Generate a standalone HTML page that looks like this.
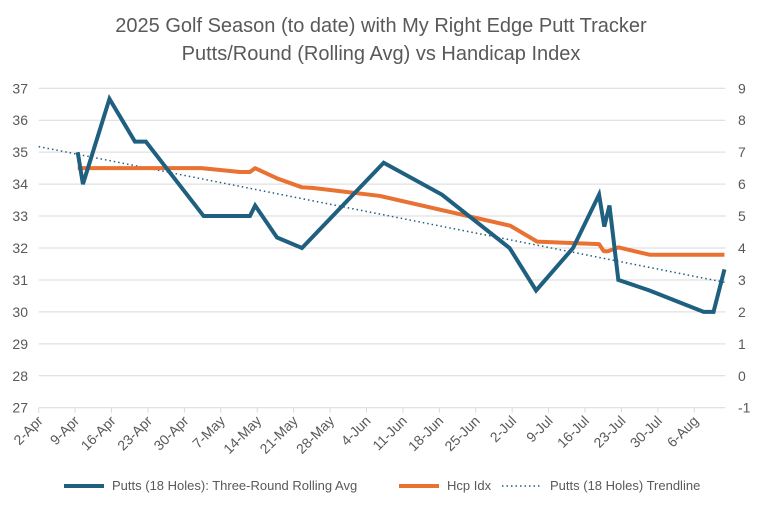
<!DOCTYPE html>
<html><head><meta charset="utf-8"><style>
body{margin:0;background:#fff;}
svg text{font-family:"Liberation Sans",Arial,sans-serif;fill:#595959;}
</style></head><body>
<svg id="chart" width="762" height="510" xmlns="http://www.w3.org/2000/svg">
<text x="381" y="32" font-size="20" text-anchor="middle">2025 Golf Season (to date) with My Right Edge Putt Tracker</text>
<text x="381" y="60" font-size="20" text-anchor="middle">Putts/Round (Rolling Avg) vs Handicap Index</text>
<g id="grid"></g><g id="xaxis"></g><g id="series"></g>
<g font-size="13">
<line x1="64" y1="486" x2="104" y2="486" stroke="#1f5f7f" stroke-width="4"/>
<text x="112" y="490" font-size="13">Putts (18 Holes): Three-Round Rolling Avg</text>
<line x1="399" y1="486" x2="439" y2="486" stroke="#e97132" stroke-width="4"/>
<text x="447" y="490" font-size="13">Hcp Idx</text>
<line x1="502" y1="486" x2="542" y2="486" stroke="#1f5f7f" stroke-width="1.5" stroke-dasharray="1.5 3"/>
<text x="550" y="490" font-size="13">Putts (18 Holes) Trendline</text>
</g>
</svg>
<script>
const xTickLabels=["2-Apr","9-Apr","16-Apr","23-Apr","30-Apr","7-May","14-May","21-May","28-May","4-Jun","11-Jun","18-Jun","25-Jun","2-Jul","9-Jul","16-Jul","23-Jul","30-Jul","6-Aug"];
const leftTicks=[27,28,29,30,31,32,33,34,35,36,37];
const rightTicks=[-1,0,1,2,3,4,5,6,7,8,9];
const puttDays=[7.5,8.5,13.6,18.5,20.6,31.7,40.6,41.6,45.8,50.6,66.3,77.5,90.5,95.6,102.7,107.7,108.7,109.7,111.4,117.4,127.8,129.7,131.8];
const puttVals=[35.0,34.0,36.67,35.33,35.33,33.0,33.0,33.33,32.33,32.0,34.67,33.67,32.0,30.67,32.0,33.67,32.67,33.33,31.0,30.67,30.0,30.0,31.33];
const hcpDays=[7.5,31.3,38.7,40.6,41.6,45.8,50.6,52.8,65.6,90.6,95.8,107.7,108.6,109.4,111.4,117.4,131.8];
const hcpVals=[6.5,6.5,6.38,6.38,6.5,6.18,5.9,5.88,5.63,4.7,4.2,4.12,3.9,3.9,4.02,3.79,3.79];
const X0=38.7,X1=725.5,DMAX=132,YT=88.3,YB=407.7;
const xS=d=>X0+(X1-X0)*d/DMAX;
const yL=v=>YB-(v-27)*(YB-YT)/10;
const yR=v=>YB-(v+1)*(YB-YT)/10;
const NS="http://www.w3.org/2000/svg";
function mk(tag,attrs,parent){const e=document.createElementNS(NS,tag);for(const k in attrs)e.setAttribute(k,attrs[k]);parent.appendChild(e);return e;}
const grid=document.getElementById('grid'),xa=document.getElementById('xaxis'),ser=document.getElementById('series');
leftTicks.forEach((v,i)=>{
 const l=mk('line',{x1:X0,x2:X1,y1:yL(v),y2:yL(v),stroke:'#d9d9d9','stroke-width':1},grid);
 
 
 const t=mk('text',{x:28,y:yL(v)+5,'font-size':14,'text-anchor':'end'},grid);t.textContent=v;
 
 
 const r=mk('text',{x:738,y:yR(rightTicks[i])+5,'font-size':14},grid);r.textContent=rightTicks[i];
 
 
});
xTickLabels.forEach((s,i)=>{
 const x=xS(i*7);
 const tk=mk('line',{x1:x,x2:x,y1:YB,y2:YB+5,stroke:'#d9d9d9'},xa);
 
 
 const ax=x+5,ay=YB+14;
 const t=mk('text',{x:ax,y:ay,'font-size':14,'text-anchor':'end',transform:`rotate(-45 ${ax} ${ay})`},xa);t.textContent=s;
 
 
});
const n=puttDays.length;let sx=0,sy=0,sxx=0,sxy=0;
for(let i=0;i<n;i++){sx+=puttDays[i];sy+=puttVals[i];sxx+=puttDays[i]*puttDays[i];sxy+=puttDays[i]*puttVals[i];}
const slope=(n*sxy-sx*sy)/(n*sxx-sx*sx),icpt=(sy-slope*sx)/n;
const dEnd=puttDays[n-1];
const tr=mk('line',{x1:xS(0),y1:yL(icpt),x2:xS(dEnd),y2:yL(icpt+slope*dEnd),stroke:'#1f5f7f','stroke-width':1.5,'stroke-dasharray':'1.5 3'},ser);


const hp=mk('polyline',{points:hcpDays.map((d,i)=>xS(d)+','+yR(hcpVals[i])).join(' '),fill:'none',stroke:'#e97132','stroke-width':4,'stroke-linejoin':'round'},ser);


const pp=mk('polyline',{points:puttDays.map((d,i)=>xS(d)+','+yL(puttVals[i])).join(' '),fill:'none',stroke:'#1f5f7f','stroke-width':4,'stroke-linejoin':'miter'},ser);


</script>
</body></html>
